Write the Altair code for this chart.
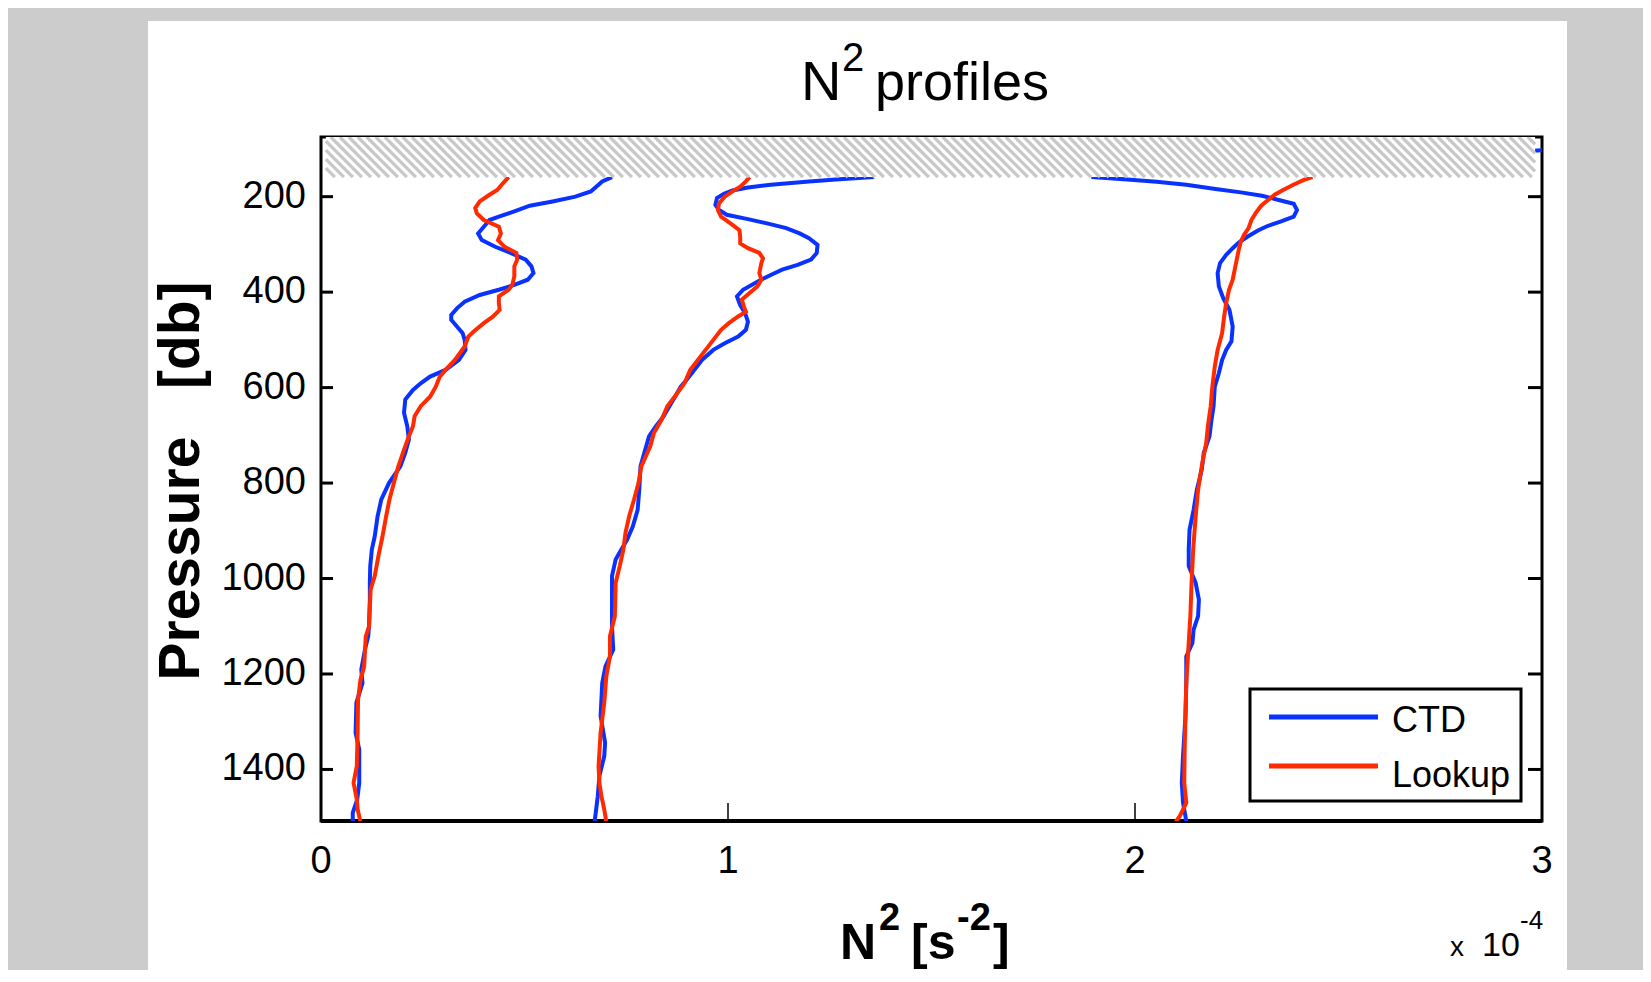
import altair as alt
import pandas as pd

# ---------------- data (N^2 in units of 1e-4 s^-2, pressure in db) ----------------
SERIES = ["CTD", "Lookup"]
COLORS = ["#0a32ff", "#ff2a00"]

ctd1_p = [159, 168, 189, 200, 210, 219, 231, 242, 249, 263, 277, 291, 305, 318, 332, 346, 360, 374, 385, 395,
          406, 420, 434, 448, 458, 472, 486, 500, 521, 542, 563, 577, 591, 605, 625, 653, 681, 709, 737, 765,
          800, 835, 870, 912, 939, 974, 1009, 1044, 1100, 1121, 1149, 1191, 1219, 1260, 1323, 1358, 1428, 1463,
          1491, 1510]
ctd1_n2 = [0.715, 0.691, 0.663, 0.625, 0.569, 0.513, 0.475, 0.437, 0.414, 0.400, 0.386, 0.395, 0.428, 0.466,
           0.503, 0.517, 0.522, 0.508, 0.475, 0.437, 0.390, 0.353, 0.334, 0.320, 0.320, 0.334, 0.348, 0.353,
           0.355, 0.339, 0.306, 0.268, 0.245, 0.226, 0.207, 0.204, 0.212, 0.216, 0.207, 0.195, 0.167, 0.148,
           0.139, 0.132, 0.125, 0.121, 0.120, 0.120, 0.118, 0.116, 0.108, 0.099, 0.102, 0.087, 0.085, 0.094,
           0.094, 0.089, 0.078, 0.078]

look1_p = [159, 172, 186, 196, 210, 224, 235, 249, 263, 277, 291, 305, 318, 332, 346, 367, 385, 395, 409, 423,
           437, 451, 465, 482, 493, 514, 542, 563, 577, 598, 619, 639, 660, 681, 702, 730, 765, 800, 835, 870,
           912, 953, 995, 1023, 1100, 1121, 1184, 1212, 1254, 1323, 1393, 1428, 1463, 1484, 1510]
look1_n2 = [0.461, 0.447, 0.433, 0.414, 0.390, 0.379, 0.383, 0.400, 0.437, 0.442, 0.435, 0.451, 0.480, 0.482,
            0.475, 0.475, 0.470, 0.461, 0.437, 0.437, 0.439, 0.423, 0.400, 0.376, 0.362, 0.353, 0.329, 0.306,
            0.292, 0.282, 0.268, 0.245, 0.230, 0.226, 0.216, 0.204, 0.190, 0.179, 0.168, 0.160, 0.151, 0.141,
            0.132, 0.122, 0.118, 0.110, 0.106, 0.097, 0.091, 0.090, 0.088, 0.080, 0.088, 0.090, 0.097]

ctd2_p = [159, 164, 168, 175, 181, 187, 194, 203, 217, 228, 238, 247, 256, 266, 277, 287, 301, 318, 332, 343,
          353, 364, 374, 385, 395, 409, 427, 444, 462, 479, 493, 507, 521, 542, 563, 584, 598, 619, 639, 660,
          681, 702, 723, 744, 765, 814, 856, 891, 919, 939, 960, 995, 1044, 1100, 1149, 1184, 1219, 1288, 1344,
          1372, 1414, 1456, 1491, 1510]
ctd2_n2 = [1.359, 1.265, 1.199, 1.105, 1.049, 1.011, 0.990, 0.973, 0.969, 0.978, 0.997, 1.049, 1.096, 1.143,
           1.176, 1.199, 1.220, 1.218, 1.204, 1.171, 1.133, 1.105, 1.081, 1.058, 1.037, 1.022, 1.030, 1.042,
           1.049, 1.044, 1.025, 0.992, 0.964, 0.936, 0.917, 0.898, 0.884, 0.870, 0.856, 0.842, 0.823, 0.806,
           0.799, 0.792, 0.785, 0.782, 0.778, 0.766, 0.752, 0.738, 0.724, 0.715, 0.715, 0.715, 0.718, 0.699,
           0.691, 0.687, 0.698, 0.696, 0.684, 0.680, 0.675, 0.672]

look2_p = [159, 168, 179, 189, 200, 214, 228, 242, 256, 270, 284, 298, 308, 318, 329, 339, 360, 374, 388, 402,
           416, 430, 441, 451, 465, 479, 500, 521, 542, 563, 591, 612, 639, 667, 695, 723, 765, 800, 835, 870,
           905, 939, 974, 1009, 1079, 1121, 1163, 1205, 1260, 1323, 1393, 1428, 1456, 1484, 1510]
look2_n2 = [1.053, 1.044, 1.030, 1.011, 0.992, 0.978, 0.975, 0.983, 1.006, 1.028, 1.030, 1.030, 1.049, 1.077,
            1.086, 1.082, 1.077, 1.082, 1.072, 1.053, 1.034, 1.039, 1.044, 1.025, 1.002, 0.983, 0.964, 0.945,
            0.926, 0.907, 0.893, 0.875, 0.851, 0.837, 0.818, 0.809, 0.787, 0.780, 0.769, 0.757, 0.748, 0.743,
            0.734, 0.724, 0.722, 0.710, 0.710, 0.701, 0.696, 0.687, 0.682, 0.684, 0.689, 0.696, 0.701]

ctd3_p = [100, 159, 164, 169, 175, 184, 191, 198, 207, 215, 228, 242, 252, 261, 271, 284, 296, 308, 322, 339,
          360, 388, 413, 437, 472, 503, 521, 542, 570, 598, 639, 667, 702, 737, 772, 814, 856, 898, 939, 974,
          1009, 1044, 1079, 1107, 1135, 1163, 1219, 1288, 1372, 1428, 1470, 1498, 1510]
ctd3_n2 = [3.05, 1.893, 1.981, 2.053, 2.126, 2.198, 2.260, 2.312, 2.353, 2.390, 2.398, 2.390, 2.359, 2.327,
           2.302, 2.276, 2.255, 2.240, 2.224, 2.209, 2.203, 2.206, 2.217, 2.232, 2.240, 2.237, 2.224, 2.214,
           2.206, 2.196, 2.193, 2.188, 2.183, 2.169, 2.164, 2.152, 2.144, 2.134, 2.132, 2.132, 2.149, 2.157,
           2.155, 2.144, 2.141, 2.126, 2.126, 2.124, 2.118, 2.115, 2.118, 2.124, 2.126]

look3_p = [159, 165, 175, 186, 196, 207, 219, 235, 249, 266, 280, 294, 311, 332, 353, 374, 395, 423, 451, 486,
           521, 556, 598, 639, 681, 716, 765, 814, 870, 939, 1009, 1079, 1149, 1219, 1288, 1358, 1428, 1470,
           1498, 1510]
look3_n2 = [2.436, 2.415, 2.389, 2.364, 2.343, 2.327, 2.310, 2.296, 2.286, 2.279, 2.268, 2.260, 2.255, 2.250,
            2.245, 2.240, 2.231, 2.224, 2.219, 2.214, 2.203, 2.196, 2.190, 2.186, 2.179, 2.175, 2.164, 2.155,
            2.149, 2.143, 2.139, 2.136, 2.131, 2.126, 2.124, 2.122, 2.121, 2.126, 2.110, 2.100]

X_TICKS = [0, 1, 2, 3]
Y_TICKS = [200, 400, 600, 800, 1000, 1200, 1400]
X_INNER_TICKS = [1, 2]
X_DOMAIN = [0, 3]
Y_DOMAIN = [75, 1508]
HATCH_P = [75, 159]          # masked (hatched) pressure band
HATCH_N2 = [0.012, 2.983]

TITLE = ["N", "2", "profiles"]
XLABEL = ["N", "2", "[s", "-2", "]"]
YLABEL = "Pressure\u00a0\u00a0\u00a0[db]"
EXPONENT = ["x", "10", "-4"]

# ---------------- layout / style ----------------
W, H = 1221, 684
FONT = "Liberation Sans, Arial, Helvetica, sans-serif"
GRAY = "#cccccc"
TICK_FS = 38

xscale = alt.Scale(domain=X_DOMAIN, nice=False, zero=False)
yscale = alt.Scale(domain=Y_DOMAIN, reverse=True, nice=False, zero=False)
cscale = alt.Scale(domain=SERIES, range=COLORS)


def frame(series, pairs):
    parts = []
    for i, (p, n2) in enumerate(pairs):
        parts.append(pd.DataFrame({"p": p, "n2": n2, "profile": i + 1, "series": series}))
    return pd.concat(parts, ignore_index=True)


ctd_df = frame("CTD", [(ctd1_p, ctd1_n2), (ctd2_p, ctd2_n2), (ctd3_p, ctd3_n2)])
look_df = frame("Lookup", [(look1_p, look1_n2), (look2_p, look2_n2), (look3_p, look3_n2)])

one = pd.DataFrame({"k": [0]})


def strip(x0, x1, y0, y1):
    return alt.Chart(one).mark_rect(color=GRAY, clip=False).encode(
        x=alt.value(x0), x2=alt.value(x1), y=alt.value(y0), y2=alt.value(y1))


# gray figure margins around the white panel
strips = [strip(-320, 1330, -140, -116), strip(-320, -173, -140, 840), strip(1246, 1330, -140, 840)]

# axes box
box = alt.Chart(one).mark_rect(fillOpacity=0, stroke="black", strokeWidth=3).encode(
    x=alt.value(0), x2=alt.value(W), y=alt.value(0), y2=alt.value(H))
bottom_line = alt.Chart(one).mark_rule(strokeWidth=4, color="black").encode(
    x=alt.value(0), x2=alt.value(W), y=alt.value(H))

ctd_lines = alt.Chart(ctd_df).mark_line(strokeWidth=4, clip=True).encode(
    x=alt.X("n2:Q", scale=xscale, axis=None),
    y=alt.Y("p:Q", scale=yscale, axis=None),
    color=alt.Color("series:N", scale=cscale, legend=None),
    detail="profile:N",
    order="p:Q",
)
look_lines = alt.Chart(look_df).mark_line(strokeWidth=4, clip=True).encode(
    x=alt.X("n2:Q", scale=xscale, axis=None),
    y=alt.Y("p:Q", scale=yscale, axis=None),
    color=alt.Color("series:N", scale=cscale, legend=None),
    detail="profile:N",
    order="p:Q",
)

# hatched mask band
hatch_df = pd.DataFrame({"n2": [HATCH_N2[0]], "n2_end": [HATCH_N2[1]],
                         "p": [HATCH_P[0]], "p_end": [HATCH_P[1]]})
hatch_bg = alt.Chart(hatch_df).mark_rect(color="white", clip=True).encode(
    x=alt.X("n2:Q", scale=xscale, axis=None), x2="n2_end:Q",
    y=alt.Y("p:Q", scale=yscale, axis=None), y2="p_end:Q")

dv_px = (X_DOMAIN[1] - X_DOMAIN[0]) / W
dp_px = (Y_DOMAIN[1] - Y_DOMAIN[0]) / H
band_px = (HATCH_P[1] - HATCH_P[0]) / dp_px
shift = band_px * dv_px
period = 9 * dv_px
rows = []
v0 = HATCH_N2[0] - shift
while v0 < HATCH_N2[1]:
    t0 = max(0.0, (HATCH_N2[0] - v0) / shift)
    t1 = min(1.0, (HATCH_N2[1] - v0) / shift)
    if t1 > t0:
        rows.append({"n2": v0 + t0 * shift, "n2_end": v0 + t1 * shift,
                     "p": HATCH_P[0] + t0 * (HATCH_P[1] - HATCH_P[0]),
                     "p_end": HATCH_P[0] + t1 * (HATCH_P[1] - HATCH_P[0])})
    v0 += period
stripes = alt.Chart(pd.DataFrame(rows)).mark_rule(strokeWidth=3.3, color="#c8c8c8", clip=True).encode(
    x=alt.X("n2:Q", scale=xscale, axis=None), x2="n2_end:Q",
    y=alt.Y("p:Q", scale=yscale, axis=None), y2="p_end:Q")

# inward ticks (MATLAB style)
yt = pd.DataFrame({"p": Y_TICKS, "label": [str(v) for v in Y_TICKS]})
xt = pd.DataFrame({"n2": X_TICKS, "label": [str(v) for v in X_TICKS]})
left_ticks = alt.Chart(yt).mark_rule(strokeWidth=3, color="black").encode(
    y=alt.Y("p:Q", scale=yscale, axis=None), x=alt.value(0), x2=alt.value(12))
right_ticks = alt.Chart(yt).mark_rule(strokeWidth=3, color="black").encode(
    y=alt.Y("p:Q", scale=yscale, axis=None), x=alt.value(W - 14), x2=alt.value(W))
bottom_ticks = alt.Chart(pd.DataFrame({"n2": X_INNER_TICKS})).mark_rule(strokeWidth=1.5, color="black").encode(
    x=alt.X("n2:Q", scale=xscale, axis=None), y=alt.value(H - 18), y2=alt.value(H))

# tick labels
y_labels = alt.Chart(yt).mark_text(align="right", baseline="middle", font=FONT, fontSize=TICK_FS,
                                   color="black").encode(
    y=alt.Y("p:Q", scale=yscale, axis=None), x=alt.value(-15), text="label:N")
x_labels = alt.Chart(xt).mark_text(align="center", baseline="alphabetic", font=FONT, fontSize=TICK_FS,
                                   color="black").encode(
    x=alt.X("n2:Q", scale=xscale, axis=None), y=alt.value(H + 52), text="label:N")

# legend
leg_box = alt.Chart(one).mark_rect(fill="white", stroke="black", strokeWidth=3).encode(
    x=alt.value(929), x2=alt.value(1200), y=alt.value(552), y2=alt.value(664))
legend_layers = [leg_box]
for i, (name, col) in enumerate(zip(SERIES, COLORS)):
    ly = 580 + 49 * i
    legend_layers.append(
        alt.Chart(one).mark_rule(strokeWidth=5, color=col).encode(
            x=alt.value(948), x2=alt.value(1057), y=alt.value(ly)))
    legend_layers.append(
        alt.Chart(pd.DataFrame({"t": [name]})).mark_text(
            align="left", baseline="alphabetic", font=FONT, fontSize=36, color="black").encode(
            x=alt.value(1071), y=alt.value(ly + 15 + 6 * i), text="t:N"))


def txt(s, x, y, size, weight="normal", angle=0, align="left"):
    return alt.Chart(pd.DataFrame({"t": [s]})).mark_text(
        align=align, baseline="alphabetic", font=FONT, fontSize=size, fontWeight=weight,
        angle=angle, color="black").encode(x=alt.value(x), y=alt.value(y), text="t:N")


texts = [
    txt(TITLE[0], 480, -37, 56),
    txt(TITLE[1], 521, -66, 40),
    txt(TITLE[2], 554, -37, 54),
    txt(XLABEL[0], 519, 822, 50, weight="bold"),
    txt(XLABEL[1], 558, 793, 38, weight="bold"),
    txt(XLABEL[2], 590, 822, 50, weight="bold"),
    txt(XLABEL[3], 636, 793, 38, weight="bold"),
    txt(XLABEL[4], 672, 822, 50, weight="bold"),
    txt(YLABEL, -122, 344, 57, weight="bold", angle=270, align="center"),
    txt(EXPONENT[0], 1129, 819, 28),
    txt(EXPONENT[1], 1161, 819, 34),
    txt(EXPONENT[2], 1199, 792, 26),
]

chart = alt.layer(
    *strips, box, bottom_line, ctd_lines, look_lines, hatch_bg, stripes,
    left_ticks, right_ticks, bottom_ticks, y_labels, x_labels, *legend_layers, *texts
).properties(
    width=W, height=H,
    autosize=alt.AutoSizeParams(type="none"),
    padding={"left": 313, "top": 129, "right": 101, "bottom": 149},
    background="white",
).configure_view(strokeWidth=0)

chart.save("out.html", embed_options={"renderer": "svg", "actions": False})
